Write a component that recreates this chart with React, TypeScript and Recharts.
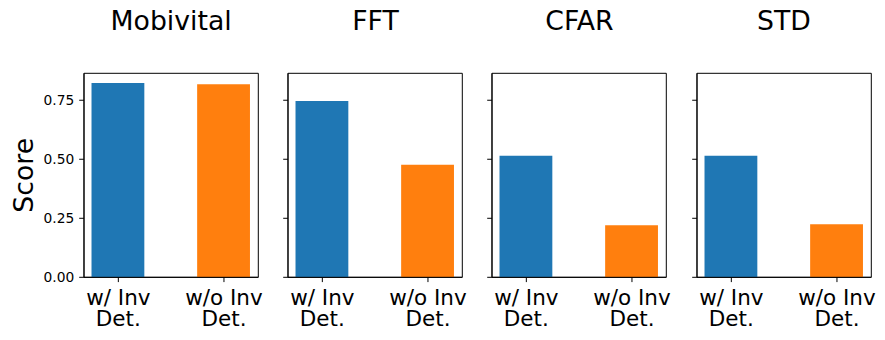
import { BarChart, Bar, Cell, XAxis, YAxis, ReferenceArea } from "recharts";

// ── data ──────────────────────────────────────────────────────────────
const METHODS = ["Mobivital", "FFT", "CFAR", "STD"];
const CATEGORIES = ["w/ Inv\nDet.", "w/o Inv\nDet."];
const WITH_INV = [0.823, 0.747, 0.515, 0.515];
const WITHOUT_INV = [0.818, 0.477, 0.22, 0.225];
const Y_TICKS = [0, 0.25, 0.5, 0.75];

const COLORS = ["#1f77b4", "#ff7f0e"];
const FONT = "'DejaVu Sans', Verdana, sans-serif";

// ── layout ────────────────────────────────────────────────────────────
const PLOT_LEFT = [84, 288.3, 492.3, 696.7];
const PLOT_W = 174.3;
const PLOT_TOP = 73.3;
const PLOT_H = 204;
const H = 340;
const RIGHT_PAD = 12;
const X_DOMAIN = [-0.325, 1.325];
const Y_MAX = Math.max(...WITH_INV, ...WITHOUT_INV) * 1.05;

function XTick({ x, y, payload }: any) {
  const lines = CATEGORIES[payload.value].split("\n");
  return (
    <text x={x} y={y} textAnchor="middle" fontSize={21.5} fontFamily={FONT} fill="#000">
      {lines.map((l, i) => (
        <tspan key={i} x={x} dy={i === 0 ? 23 : 21}>{l}</tspan>
      ))}
    </text>
  );
}

function Panel({ idx }: { idx: number }) {
  const first = idx === 0;
  const yW = first ? 84 : 10;
  const rows = CATEGORIES.map((_, i) => ({
    x: i,
    value: i === 0 ? WITH_INV[idx] : WITHOUT_INV[idx],
  }));
  return (
    <div style={{ position: "absolute", left: PLOT_LEFT[idx] - yW, top: 0 }}>
      <BarChart
        width={yW + PLOT_W + RIGHT_PAD}
        height={H}
        data={rows}
        margin={{ top: PLOT_TOP, right: RIGHT_PAD, bottom: 0, left: 0 }}
      >
        <XAxis
          dataKey="x"
          type="number"
          domain={X_DOMAIN}
          allowDataOverflow
          ticks={[0, 1]}
          interval={0}
          height={H - PLOT_TOP - PLOT_H}
          tickSize={4.8}
          tickMargin={0}
          stroke="#000"
          tickLine={{ stroke: "#000" }}
          tick={<XTick />}
        />
        <YAxis
          type="number"
          domain={[0, Y_MAX]}
          allowDataOverflow
          ticks={Y_TICKS}
          interval={0}
          width={yW}
          tickSize={4.8}
          tickMargin={5}
          stroke="#000"
          tickLine={{ stroke: "#000" }}
          tick={{ fontSize: 13.8, fill: "#000", fontFamily: FONT }}
          tickFormatter={(v: number) => (first ? v.toFixed(2) : "")}
        />
        <Bar dataKey="value" barSize={PLOT_W * 0.5 / 1.65} isAnimationActive={false}>
          {rows.map((_, i) => (
            <Cell key={i} fill={COLORS[i]} />
          ))}
        </Bar>
        <ReferenceArea
          x1={X_DOMAIN[0]}
          x2={X_DOMAIN[1]}
          y1={0}
          y2={Y_MAX}
          fill="none"
          fillOpacity={0}
          stroke="#000"
          strokeWidth={1}
          ifOverflow="visible"
        />
      </BarChart>
    </div>
  );
}

export default function App() {
  return (
    <div style={{ position: "absolute", left: 0, top: 0, width: 885, height: H, background: "#fff" }}>
      {METHODS.map((_, i) => (
        <Panel key={i} idx={i} />
      ))}
      <svg width={885} height={H} style={{ position: "absolute", left: 0, top: 0, pointerEvents: "none" }}>
        {METHODS.map((m, i) => (
          <text
            key={m}
            x={PLOT_LEFT[i] + PLOT_W / 2}
            y={30}
            textAnchor="middle"
            fontSize={26.7}
            fontFamily={FONT}
            fill="#000"
          >
            {m}
          </text>
        ))}
        <text
          x={33}
          y={PLOT_TOP + PLOT_H / 2}
          transform={`rotate(-90 33 ${PLOT_TOP + PLOT_H / 2})`}
          textAnchor="middle"
          fontSize={26.7}
          fontFamily={FONT}
          fill="#000"
        >
          Score
        </text>
      </svg>
    </div>
  );
}
